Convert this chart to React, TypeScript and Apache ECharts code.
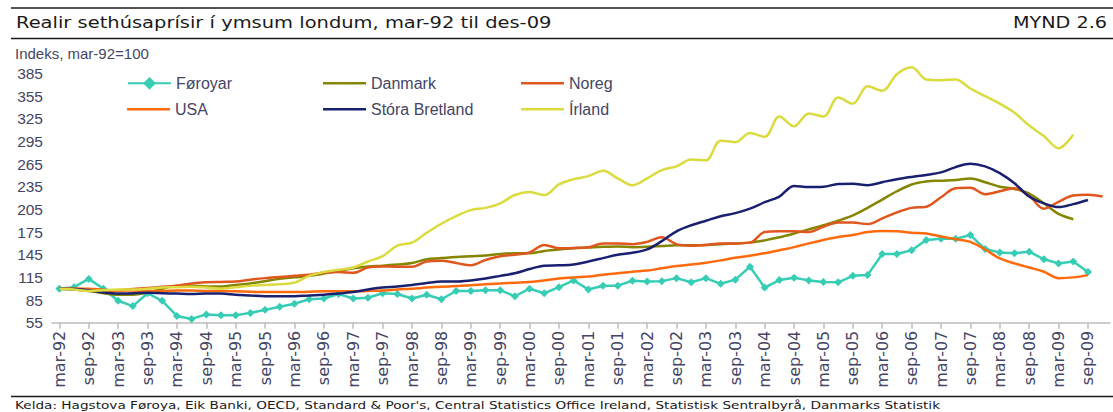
import React, { useEffect, useRef } from 'react';
import * as echarts from 'echarts';

const quarterMonths = ['mar', 'jun', 'sep', 'des'];
const years = ['92', '93', '94', '95', '96', '97', '98', '99', '00', '01', '02', '03', '04', '05', '06', '07', '08', '09'];
const categories = years.flatMap((y) => quarterMonths.map((m) => `${m}-${y}`));

const seriesNames = ['Føroyar', 'Danmark', 'Noreg', 'USA', 'Stóra Bretland', 'Írland'];

const foroyar = [
  100, 102, 113, 100, 84, 77, 94, 84, 64, 60,
  66, 65, 65, 68, 72, 76, 80, 86, 87, 93,
  87, 88, 94, 93, 87, 92, 86, 97, 97, 98,
  98, 90, 100, 94, 102, 111, 99, 104, 104, 110.5,
  109.5, 110, 114, 108.5, 114, 106.5, 112, 129, 101.5, 111.5,
  114.5, 111, 109, 108.5, 117, 118, 146, 146, 151, 164.5,
  166, 166, 171, 152.5, 148, 147, 149, 139, 133.5, 136,
  122, null,
];

const danmark = [
  100, 99, 97, 94, 92, 92, 95, 100, 104, 104,
  103, 103, 105, 107, 110, 113, 115, 117, 120, 123.5,
  127, 129.5, 130.5, 132, 134, 139, 140.5, 142, 143, 144,
  146, 147, 147, 150, 152, 153.5, 154.5, 155.5, 156, 155,
  155.5, 156.5, 157.5, 157.5, 158, 159, 160, 161, 164, 168,
  173, 178.5, 184, 190, 197, 207, 218, 229, 238, 242,
  243, 244, 246, 241, 235, 232, 226, 213, 199, 192,
  null, null,
];

const noreg = [
  100, 100, 99, 97, 98, 99.5, 101, 102.5, 104, 107,
  108.5, 109, 109.5, 112, 114, 115.5, 117, 118.5, 121, 122,
  121, 128, 129.5, 129, 129, 136, 137, 134, 131, 138,
  143, 145, 148, 158, 153.5, 154, 155, 160, 160, 159,
  162, 168, 159, 157, 158, 160, 160, 161, 175, 176,
  176, 175, 182, 187.5, 187.5, 185.5, 193, 201, 207, 208.5,
  221, 233, 233.5, 225, 229, 233, 223, 206, 215, 223.5,
  224.5, 222,
];

const usa = [
  100, 100, 100, 98.5, 97.5, 97.5, 97, 97, 97.5, 97.5,
  97, 97, 96.5, 96, 95.5, 95.5, 95.5, 96, 96.5, 96.5,
  96.5, 97, 97.5, 99, 100, 101.5, 102.5, 103.5, 104.5, 106,
  107, 108, 109, 111, 113.5, 115, 116, 118.5, 120.5, 122.5,
  124, 127, 130, 132, 134.5, 137.5, 141, 143.5, 147, 151,
  155, 160, 164.5, 168.5, 171, 175, 176.5, 176, 174, 173,
  169, 165.5, 162, 152, 140, 133.5, 128, 122.5, 114, 115,
  118, null,
];

const storaBretland = [
  100, 99.5, 98, 95, 93.5, 94, 94.5, 94, 93.5, 93,
  93.5, 93.5, 92, 91, 90, 90, 90, 91, 92, 93.5,
  95.5, 99, 101.5, 103, 105, 107.5, 109.5, 109.5, 111, 113.5,
  117, 120.5, 126, 130.5, 131, 132, 136, 140.5, 145, 147.5,
  152, 163, 176, 184, 190, 196, 200, 206, 214.5, 222,
  236, 234.5, 235, 238.5, 239, 237, 241, 245, 248, 250.5,
  254, 261, 265.5, 262, 253, 239.5, 222, 213, 208, 212,
  217.5, null,
];

const irland = [
  100, 99, 97, 98, 99, 99, 100, 101.5, 102, 102.5,
  101.5, 100, 102, 104, 105, 106, 108, 117, 122, 125,
  128, 136, 143, 157, 161, 174, 186, 196, 204, 207,
  213, 224, 228, 224, 238, 245, 249, 256, 246, 237,
  246, 257, 262, 271, 270, 296, 294, 306, 301, 328,
  315, 332, 328, 353, 345, 368, 362, 384, 393, 377,
  376, 377, 365, 355, 345, 333, 316, 302, 286, 304,
  null, null,
];

const seriesValues = [foroyar, danmark, noreg, usa, storaBretland, irland];
const seriesColors = ['#36CDB4', '#858500', '#E0561F', '#FF6A0D', '#1A2070', '#DBDB40'];

const yMin = 55;
const yMax = 385;
const yStep = 30;

const titleText = 'Realir sethúsaprísir í ymsum londum, mar-92 til des-09';
const figureText = 'MYND 2.6';
const yAxisTitle = 'Indeks, mar-92=100';
const sourceText =
  "Kelda: Hagstova Føroya, Eik Banki, OECD, Standard & Poor's, Central Statistics Office Ireland, Statistisk Sentralbyrå, Danmarks Statistik";

const legendPlaces = [
  { left: 127, top: 75.3 },
  { left: 323, top: 75.3 },
  { left: 521, top: 75.3 },
  { left: 127, top: 101.3 },
  { left: 323, top: 101.3 },
  { left: 521, top: 101.3 },
];

const axisTextColor = '#454565';
const narrowFont = "'Liberation Sans', Arial, sans-serif";
const wideFont = "'DejaVu Sans', Verdana, sans-serif";

export default function App() {
  const ref = useRef<HTMLDivElement>(null);

  useEffect(() => {
    if (!ref.current) return;
    const chart = echarts.init(ref.current, null, { renderer: 'svg' });

    const series = seriesNames.map((name, idx) => {
      const isFo = idx === 0;
      return {
        name,
        type: 'line',
        data: seriesValues[idx],
        smooth: isFo ? false : 0.35,
        symbol: isFo ? 'diamond' : 'none',
        symbolSize: isFo ? 8 : 0,
        showSymbol: isFo,
        clip: false,
        connectNulls: false,
        lineStyle: { width: 2.5, color: seriesColors[idx] },
        itemStyle: { color: seriesColors[idx] },
        emphasis: { disabled: true },
        z: 2 + idx,
      };
    });

    const legend = seriesNames.map((name, idx) => {
      const isFo = idx === 0;
      const base: any = {
        data: [name],
        left: legendPlaces[idx].left,
        top: legendPlaces[idx].top,
        padding: 0,
        itemWidth: 43,
        itemHeight: isFo ? 16 : 2.5,
        itemGap: 0,
        selectedMode: false,
        textStyle: { fontFamily: narrowFont, fontSize: 16, color: axisTextColor, lineHeight: 16 },
      };
      if (!isFo) {
        base.icon = 'rect';
        base.itemStyle = { color: seriesColors[idx], borderWidth: 0 };
      }
      return base;
    });

    const option = {
      animation: false,
      backgroundColor: '#ffffff',
      grid: { left: 52, right: 3, top: 73.4, bottom: 89.3, containLabel: false },
      legend,
      xAxis: {
        type: 'category',
        data: categories,
        boundaryGap: true,
        axisLine: { show: true, lineStyle: { color: '#BDBDBD', width: 1.5 } },
        axisTick: { show: true, alignWithLabel: true, interval: 1, length: 6, lineStyle: { color: '#BDBDBD', width: 1.5 } },
        axisLabel: {
          interval: 1,
          rotate: 90,
          margin: 8,
          fontFamily: wideFont,
          fontSize: 16,
          color: axisTextColor,
        },
        splitLine: { show: false },
      },
      yAxis: {
        type: 'value',
        min: yMin,
        max: yMax,
        interval: yStep,
        axisLine: { show: false },
        axisTick: { show: false },
        splitLine: { show: false },
        axisLabel: { margin: 9, fontFamily: narrowFont, fontSize: 15.5, color: axisTextColor },
      },
      series,
      graphic: [
        { type: 'line', shape: { x1: 11, y1: 8, x2: 1113, y2: 8 }, style: { stroke: '#1a1a1a', lineWidth: 1.5 } },
        { type: 'line', shape: { x1: 11, y1: 38.5, x2: 1113, y2: 38.5 }, style: { stroke: '#1a1a1a', lineWidth: 1.5 } },
        { type: 'line', shape: { x1: 11, y1: 396.5, x2: 1113, y2: 396.5 }, style: { stroke: '#1a1a1a', lineWidth: 1.5 } },
        {
          type: 'text', x: 16, y: 22.5, scaleX: 1.217,
          style: { text: titleText, fontFamily: wideFont, fontSize: 16, fill: '#1a1a1a', textAlign: 'left', textVerticalAlign: 'middle' },
        },
        {
          type: 'text', x: 1107, y: 22.5, scaleX: 1.2,
          style: { text: figureText, fontFamily: wideFont, fontSize: 16, fill: '#1a1a1a', textAlign: 'right', textVerticalAlign: 'middle' },
        },
        {
          type: 'text', x: 15, y: 53.5,
          style: { text: yAxisTitle, fontFamily: narrowFont, fontSize: 15, fill: axisTextColor, textAlign: 'left', textVerticalAlign: 'middle' },
        },
        {
          type: 'text', x: 15, y: 405.5, scaleX: 1.24,
          style: { text: sourceText, fontFamily: wideFont, fontSize: 11, fill: '#1a1a1a', textAlign: 'left', textVerticalAlign: 'middle' },
        },
      ],
    };

    chart.setOption(option as any);
    return () => chart.dispose();
  }, []);

  return (
    <div
      ref={ref}
      style={{ position: 'absolute', left: 0, top: 0, width: 1113, height: 412, background: '#ffffff' }}
    />
  );
}
